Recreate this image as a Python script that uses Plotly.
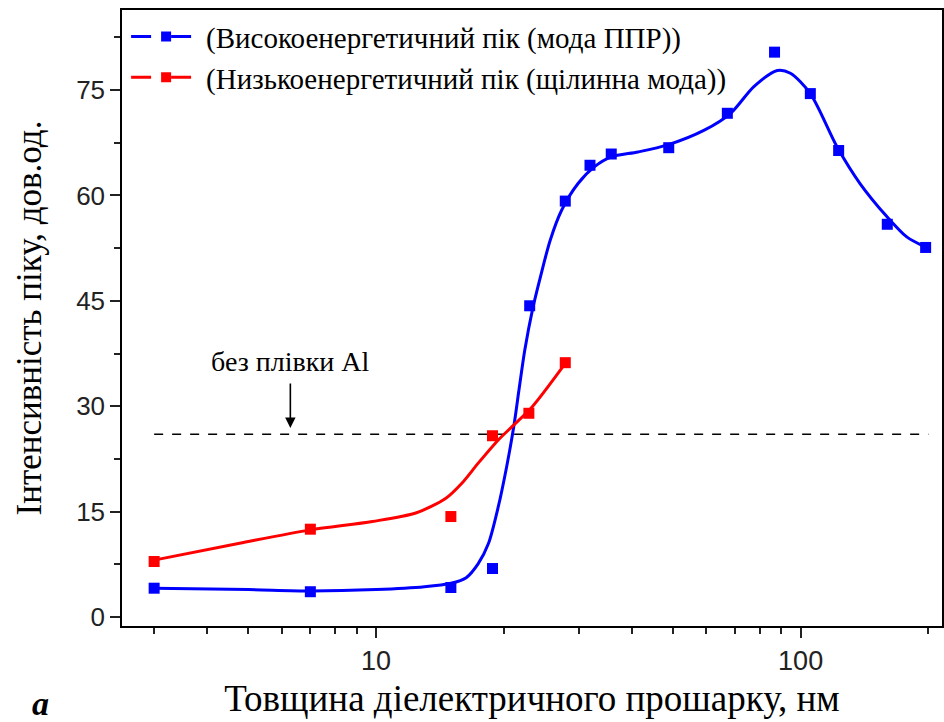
import numpy as np
import plotly.graph_objects as go

# Measured peak intensities vs. dielectric spacer thickness (nm)
x_high = [3, 7, 15, 18.8, 23, 27.9, 31.9, 35.8, 48.9, 67.2, 86.8, 105.4, 122.9, 160, 197]
y_high = [4.1, 3.6, 4.2, 6.9, 44.3, 59.2, 64.3, 65.9, 66.8, 71.7, 80.4, 74.5, 66.4, 55.9, 52.6]

x_low = [3, 7, 15, 18.8, 22.9, 27.9]
y_low = [7.9, 12.5, 14.3, 25.8, 29.0, 36.2]

# Smoothed trend curves (knots of the fitted spline)
xs_high = [3, 5, 7, 10, 13, 15, 16.3, 17.4, 18.4, 19.4, 20.3, 21.1, 21.7, 22.4, 23.4,
           24.4, 25.7, 27.35, 29.9, 32.7, 35.8, 41.4, 48.6, 59.3, 68.4, 77.6, 88.1,
           94.6, 105.4, 121.9, 138, 159.6, 177.8, 196]
ys_high = [4.1, 3.9, 3.7, 3.9, 4.3, 4.8, 5.6, 7.6, 10.5, 15.7, 21.4, 27.1, 32.3, 38.0, 44.0,
           48.5, 53.6, 57.9, 61.7, 64.1, 65.5, 66.2, 67.2, 69.3, 71.7, 75.5, 77.8,
           77.4, 74.5, 66.9, 61.7, 57.0, 54.1, 52.7]

xs_low = [3, 4.77, 7, 9.8, 12.4, 14.6, 15.9, 17.4, 19.4, 20.9, 23.3, 27.9]
ys_low = [8.1, 10.5, 12.4, 13.6, 14.8, 16.9, 19.0, 21.9, 25.2, 27.1, 29.9, 36.1]

# Reference level without the Al film
ref_x = [3, 200]
ref_level = 26.0
ref_label = "без плівки Al"

name_high = "(Високоенергетичний пік (мода ППР))"
name_low = "(Низькоенергетичний пік (щілинна мода))"

x_major = [10, 100]
x_minor = [3, 4, 5, 6, 7, 8, 9, 20, 30, 40, 50, 60, 70, 80, 90, 200]
y_major = [0, 15, 30, 45, 60, 75]
y_minor = [7.5, 22.5, 37.5, 52.5, 67.5, 82.5]

BLUE = "#0000ff"
RED = "#ff0000"
SERIF = "Liberation Serif, Times New Roman, serif"
SANS = "Liberation Sans, Arial, sans-serif"

fig = go.Figure()

# dashed reference line
fig.add_trace(go.Scatter(x=ref_x, y=[ref_level] * len(ref_x), mode="lines",
                         line=dict(color="black", width=1.5, dash="dash"),
                         showlegend=False, hoverinfo="skip"))

# smooth curves
fig.add_trace(go.Scatter(x=xs_high, y=ys_high, mode="lines",
                         line=dict(color=BLUE, width=3, shape="spline", smoothing=0.8),
                         showlegend=False))
fig.add_trace(go.Scatter(x=xs_low, y=ys_low, mode="lines",
                         line=dict(color=RED, width=3, shape="spline", smoothing=0.8),
                         showlegend=False))

# data markers
fig.add_trace(go.Scatter(x=x_high, y=y_high, mode="markers",
                         marker=dict(symbol="square", size=11, color=BLUE),
                         showlegend=False))
fig.add_trace(go.Scatter(x=x_low, y=y_low, mode="markers",
                         marker=dict(symbol="square", size=11, color=RED),
                         showlegend=False))

# legend entries: line broken around a square symbol
legend_dash = "20px,20px,20px"
fig.add_trace(go.Scatter(x=[None], y=[None], mode="lines+markers", name=name_high,
                         line=dict(color=BLUE, width=3, dash=legend_dash),
                         marker=dict(symbol="square", size=10, color=BLUE)))
fig.add_trace(go.Scatter(x=[None], y=[None], mode="lines+markers", name=name_low,
                         line=dict(color=RED, width=3, dash=legend_dash),
                         marker=dict(symbol="square", size=10, color=RED)))

# reference label with arrow
arrow_x = 6.28
fig.add_annotation(x=np.log10(arrow_x), y=ref_level + 0.9, ax=0, ay=-46,
                   axref="pixel", ayref="pixel", text="", showarrow=True,
                   arrowhead=2, arrowsize=1.3, arrowwidth=1.6, arrowcolor="black")
fig.add_annotation(x=np.log10(arrow_x), y=36.4, text=ref_label, showarrow=False,
                   font=dict(family=SERIF, size=28, color="black"))

# panel letter
fig.add_annotation(xref="paper", yref="paper", x=-0.1, y=-0.125, xanchor="center",
                   yanchor="middle", text="<b><i>a</i></b>", showarrow=False,
                   font=dict(family=SERIF, size=34, color="black"))

fig.update_layout(
    width=944, height=722,
    margin=dict(l=122, r=0, t=10, b=96),
    paper_bgcolor="white", plot_bgcolor="white",
    legend=dict(x=0.005, y=0.998, xanchor="left", yanchor="top",
                bgcolor="rgba(0,0,0,0)", font=dict(family=SERIF, size=29, color="black"),
                tracegroupgap=0, itemwidth=70),
    showlegend=True,
)

fig.update_xaxes(
    type="log", range=[np.log10(2.52), 2.333],
    tickvals=x_major, ticktext=[str(v) for v in x_major],
    ticks="outside", ticklen=10, tickwidth=1.5, tickcolor="#222",
    minor=dict(tickvals=x_minor, ticks="outside", ticklen=6, tickwidth=1.5, tickcolor="#222"),
    showline=True, linecolor="black", linewidth=1.5, mirror=True,
    showgrid=False, zeroline=False,
    tickfont=dict(family=SANS, size=27, color="#222"),
    title=dict(text="Товщина діелектричного прошарку, нм",
               font=dict(family=SERIF, size=37, color="black"), standoff=10),
)
fig.update_yaxes(
    range=[-1.28, 86.4],
    tickvals=y_major,
    ticks="outside", ticklen=10, tickwidth=1.5, tickcolor="#222",
    minor=dict(tickvals=y_minor, ticks="outside", ticklen=6, tickwidth=1.5, tickcolor="#222"),
    showline=True, linecolor="black", linewidth=1.5, mirror=True,
    showgrid=False, zeroline=False,
    tickfont=dict(family=SANS, size=26, color="#222"),
    title=dict(text="Інтенсивність піку, дов.од.",
               font=dict(family=SERIF, size=35, color="black"), standoff=24),
)

fig.write_html("out.html")
